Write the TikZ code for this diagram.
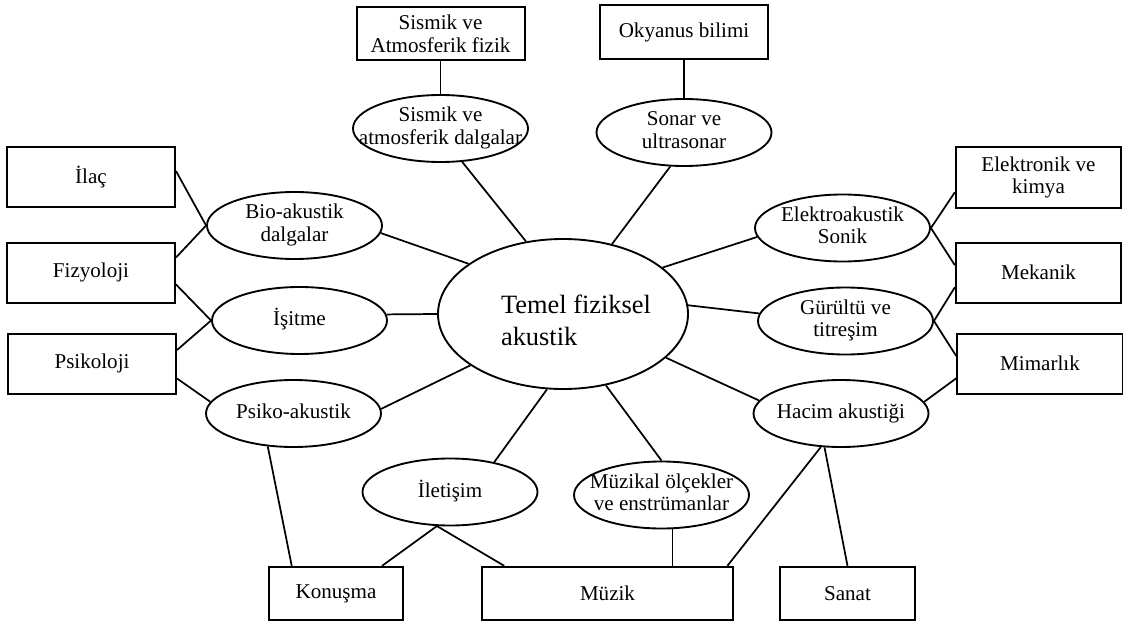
\documentclass[tikz,border=0pt]{standalone}
\usepackage{fontspec}
\setmainfont{Liberation Serif}
\usetikzlibrary{shapes.geometric}
\tikzset{
  kutu/.style={draw,line width=1.5pt,inner sep=0pt,align=center,minimum width=126pt,minimum height=45pt},
  elips/.style={draw,ellipse,line width=1.4pt,inner sep=0pt,minimum width=131.25pt,minimum height=50.25pt},
  bag/.style={line width=1.3pt}
}
\newcommand{\ortayazi}[1]{\makebox[0pt]{\begin{tabular}{@{}c@{}}#1\end{tabular}}}

\begin{document}
\begin{tikzpicture}[x=0.75pt,y=-0.75pt,every node/.style={font=\fontsize{15.8pt}{17pt}\selectfont}]
\useasboundingbox (0,0) rectangle (1123,624);
\node[elips,minimum width=187.5pt,minimum height=112.5pt,
  label={[font=\fontsize{19.8pt}{24pt}\selectfont,align=left,xshift=9.75pt,yshift=-4.5pt]center:Temel fiziksel\\akustik}] (temel) at (563,314) {};
\node[elips] (sisd) at (440.5,128.5) {\ortayazi{Sismik ve\\atmosferik dalgalar}};
\node[elips] (sonar) at (684,132.5) {\ortayazi{Sonar ve\\ultrasonar}};
\node[elips] (bio) at (294.5,225.5) {\ortayazi{Bio-akustik\\dalgalar}};
\node[elips] (isit) at (299.5,320.5) {\ortayazi{İşitme}};
\node[elips] (psiko) at (293.5,413.5) {\ortayazi{Psiko-akustik}};
\node[elips] (elk) at (842.5,228) {\ortayazi{Elektroakustik\\Sonik}};
\node[elips] (gur) at (845.5,321) {\ortayazi{Gürültü ve\\titreşim}};
\node[elips] (hacim) at (841,413.5) {\ortayazi{Hacim akustiği}};
\node[elips] (ilet) at (450,492) {\ortayazi{İletişim}};
\node[elips] (muzo) at (661.5,495) {\ortayazi{Müzikal ölçekler\\ve enstrümanlar}};

\node[kutu,minimum height=40pt] (sisk) at (440.5,33.5) {Sismik ve\\Atmosferik fizik};
\node[kutu,minimum height=40pt] (okyk) at (684,32) {Okyanus bilimi};
\node[kutu] (ilac) at (91,177) {İlaç};
\node[kutu] (fizy) at (91,272.5) {Fizyoloji};
\node[kutu] (psik) at (92,363.5) {Psikoloji};
\node[kutu,minimum width=124pt] (elkk) at (1038.5,177.5) {Elektronik ve\\kimya};
\node[kutu,minimum width=124pt] (mek) at (1038.5,272.5) {Mekanik};
\node[kutu,minimum width=124pt] (mim) at (1040,363.5) {Mimarlık};
\node[kutu,minimum width=100.5pt,minimum height=40pt] (konu) at (336,593.5) {Konuşma};
\node[kutu,minimum width=188.25pt,minimum height=40pt] (muzik) at (607.5,593.5) {Müzik};
\node[kutu,minimum width=101pt,minimum height=40pt] (sanat) at (847.5,593.5) {Sanat};

\draw[bag] (sisk.south) -- (sisd.north);
\draw[bag] (okyk.south) -- (sonar.north);
\draw[bag] (sisd.-57) -- (temel.117.5);
\draw[bag] (sonar.-112) -- (temel.55);
\draw[bag] (bio.-5) -- (temel.152);
\draw[bag] (isit.4) -- (temel.180);
\draw[bag] (psiko.3) -- (temel.209);
\draw[bag] (ilet.34) -- (temel.258);
\draw[bag] (muzo.north) -- (temel.301);
\draw[bag] (hacim.171) -- (temel.337.5);
\draw[bag] (gur.175) -- (temel.4);
\draw[bag] (elk.186) -- (temel.25.5);

\draw[bag] (ilac.4.8) -- (bio.west);
\draw[bag] (fizy.10.5) -- (bio.west);
\draw[bag] (fizy.-8.5) -- (isit.west);
\draw[bag] (psik.9) -- (isit.west);
\draw[bag] (psik.-10.5) -- (psiko.172);
\draw[bag] (psiko.232) -- (konu.148);
\draw[bag] (ilet.249.5) -- (konu.31);
\draw[bag] (ilet.249.5) -- (muzik.165);
\draw[bag] (muzo.-72) -- (muzo.-72 |- muzik.north);
\draw[bag] (hacim.239) -- (muzik.13.6);
\draw[bag] (hacim.244.5) -- (sanat.north);

\draw[bag] (elk.east) -- (elkk.190);
\draw[bag] (elk.east) -- (mek.175);
\draw[bag] (gur.east) -- (mek.190.5);
\draw[bag] (gur.east) -- (mim.175.5);
\draw[bag] (hacim.8.7) -- (mim.190);
\end{tikzpicture}
\end{document}
